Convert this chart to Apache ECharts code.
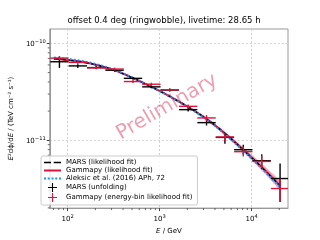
<!DOCTYPE html>
<html><head><meta charset="utf-8">
<script src="https://cdn.jsdelivr.net/npm/echarts@6/dist/echarts.min.js"></script>
<style>html,body{margin:0;padding:0;background:#fff}#c{width:320px;height:240px}</style>
</head><body><div id="c"></div><script>
// ---- data ----
const binCenter = [81.3, 128.8, 204.2, 323.6, 512.9, 812.8, 1288, 2042, 3236, 5129, 8128, 12882, 20417];
const binLow    = [64.6, 102.3, 162.2, 257.0, 407.4, 645.7, 1023, 1622, 2570, 4074, 6457, 10233, 16218];
const binHigh   = [102.3, 162.2, 257.0, 407.4, 645.7, 1023, 1622, 2570, 4074, 6457, 10233, 16218, 25704];

const marsFlux     = [6.47e-11, 5.86e-11, 5.63e-11, 5.29e-11, 4.36e-11, 3.56e-11, 3.30e-11, 2.07e-11, 1.52e-11, 1.07e-11, 7.98e-12, 6.14e-12, 4.02e-12];
const marsFluxLow  = [5.59e-11, 5.56e-11, 5.43e-11, 5.10e-11, 4.21e-11, 3.44e-11, 3.18e-11, 1.98e-11, 1.42e-11, 9.18e-12, 7.10e-12, 5.05e-12, 2.30e-12];
const marsFluxHigh = [7.32e-11, 6.11e-11, 5.83e-11, 5.48e-11, 4.51e-11, 3.69e-11, 3.42e-11, 2.17e-11, 1.63e-11, 1.19e-11, 8.96e-12, 7.15e-12, 5.76e-12];

const gpFlux     = [7.06e-11, 6.37e-11, 5.59e-11, 5.44e-11, 4.04e-11, 3.79e-11, 3.31e-11, 2.24e-11, 1.70e-11, 1.08e-11, 7.62e-12, 6.04e-12, 3.17e-12];
const gpFluxLow  = [6.73e-11, 6.15e-11, 5.40e-11, 5.25e-11, 3.90e-11, 3.66e-11, 3.19e-11, 2.13e-11, 1.58e-11, 9.85e-12, 6.78e-12, 5.13e-12, 2.33e-12];
const gpFluxHigh = [7.40e-11, 6.60e-11, 5.79e-11, 5.63e-11, 4.18e-11, 3.93e-11, 3.43e-11, 2.34e-11, 1.82e-11, 1.18e-11, 8.56e-12, 6.94e-12, 4.00e-12];

const curveEnergy = [70.8, 89.1, 112.2, 141.3, 177.8, 223.9, 281.8, 354.8, 446.7, 562.3, 707.9, 891.3, 1122, 1413, 1778, 2239, 2818, 3548, 4467, 5623, 7079, 8913, 11220, 14125, 17783, 20417];
const gammapyFit     = [6.97e-11, 6.84e-11, 6.68e-11, 6.47e-11, 6.21e-11, 5.89e-11, 5.52e-11, 5.11e-11, 4.66e-11, 4.22e-11, 3.80e-11, 3.41e-11, 3.05e-11, 2.70e-11, 2.39e-11, 2.09e-11, 1.82e-11, 1.56e-11, 1.31e-11, 1.09e-11, 8.99e-12, 7.36e-12, 6.00e-12, 4.85e-12, 3.89e-12, 3.39e-12];
const gammapyFitLow  = [6.78e-11, 6.68e-11, 6.56e-11, 6.37e-11, 6.12e-11, 5.82e-11, 5.46e-11, 5.06e-11, 4.62e-11, 4.18e-11, 3.77e-11, 3.38e-11, 3.02e-11, 2.66e-11, 2.35e-11, 2.05e-11, 1.77e-11, 1.51e-11, 1.26e-11, 1.04e-11, 8.53e-12, 6.92e-12, 5.57e-12, 4.44e-12, 3.51e-12, 3.02e-12];
const gammapyFitHigh = [7.16e-11, 7.00e-11, 6.80e-11, 6.58e-11, 6.30e-11, 5.96e-11, 5.58e-11, 5.16e-11, 4.70e-11, 4.26e-11, 3.84e-11, 3.44e-11, 3.09e-11, 2.74e-11, 2.43e-11, 2.13e-11, 1.87e-11, 1.61e-11, 1.36e-11, 1.14e-11, 9.48e-12, 7.83e-12, 6.46e-12, 5.29e-12, 4.31e-12, 3.80e-12];
const marsFit    = [6.95e-11, 6.82e-11, 6.66e-11, 6.46e-11, 6.20e-11, 5.88e-11, 5.52e-11, 5.11e-11, 4.66e-11, 4.22e-11, 3.80e-11, 3.41e-11, 3.05e-11, 2.70e-11, 2.39e-11, 2.09e-11, 1.82e-11, 1.56e-11, 1.31e-11, 1.09e-11, 8.97e-12, 7.33e-12, 5.97e-12, 4.82e-12, 3.86e-12, 3.36e-12];
const aleksicFit = [7.16e-11, 7.01e-11, 6.83e-11, 6.60e-11, 6.32e-11, 5.98e-11, 5.59e-11, 5.16e-11, 4.69e-11, 4.24e-11, 3.81e-11, 3.41e-11, 3.04e-11, 2.69e-11, 2.37e-11, 2.07e-11, 1.80e-11, 1.54e-11, 1.29e-11, 1.07e-11, 8.78e-12, 7.17e-12, 5.83e-12, 4.70e-12, 3.76e-12, 3.28e-12];

const xMajorTicks = [100, 1000, 10000];
const yMajorTicks = [1e-11, 1e-10];
const xMinorTicks = [70, 80, 90, 200, 300, 400, 500, 600, 700, 800, 900, 2000, 3000, 4000, 5000, 6000, 7000, 8000, 9000, 20000];
const yMinorTicks = [2e-12, 3e-12, 4e-12, 5e-12, 6e-12, 7e-12, 8e-12, 9e-12, 2e-11, 3e-11, 4e-11, 5e-11, 6e-11, 7e-11, 8e-11, 9e-11];

const titleText = 'offset 0.4 deg (ringwobble), livetime: 28.65 h';
const names = ['MARS (likelihood fit)', 'Gammapy (likelihood fit)', 'Aleksic et al. (2016) APh, 72', 'MARS (unfolding)', 'Gammapy (energy-bin likelihood fit)'];

// ---- chart ----
const FONT = 'DejaVu Sans';
const RED = '#dc143c', BLUE = '#1e90ff';
function fmtPow(v) {
  const l = Math.log10(v), e = Math.round(l);
  if (Math.abs(l - e) > 1e-6) return '';
  return '{b|10}{s|' + String(e).replace('-', '\u2212') + '}';
}
const powRich = {
  b: {fontSize: 7, fontFamily: FONT, color: '#000', lineHeight: 9, verticalAlign: 'bottom'},
  s: {fontSize: 5.2, fontFamily: FONT, color: '#000', lineHeight: 9, verticalAlign: 'top'}
};
const zip = (...a) => a[0].map((_, i) => a.map(x => x[i]));

function errRender(color) {
  return function (params, api) {
    const cs = params.coordSys;
    const clampX = x => Math.max(cs.x, Math.min(cs.x + cs.width, x));
    const e = api.value(0), f = api.value(1);
    const pL = api.coord([api.value(2), f]), pR = api.coord([api.value(3), f]);
    const pT = api.coord([e, api.value(5)]), pB = api.coord([e, api.value(4)]);
    return {type: 'group', children: [
      {type: 'line', shape: {x1: clampX(pL[0]), y1: pL[1], x2: clampX(pR[0]), y2: pR[1]}, style: {stroke: color, lineWidth: 1.4}},
      {type: 'line', shape: {x1: pT[0], y1: pT[1], x2: pB[0], y2: pB[1]}, style: {stroke: color, lineWidth: 1.4}}
    ]};
  };
}
const plusIcon = 'path://M0,7L16,7L16,9L0,9Z M7,0L9,0L9,16L7,16Z';
const solidIcon = 'path://M0,0L17,0L17,2L0,2Z';
const dashIcon = 'path://M0,0L7,0L7,1.5L0,1.5Z M9.7,0L17,0L17,1.5L9.7,1.5Z';
const dotIcon = 'path://M0,0L2,0L2,2L0,2Z M3.75,0L5.75,0L5.75,2L3.75,2Z M7.5,0L9.5,0L9.5,2L7.5,2Z M11.25,0L13.25,0L13.25,2L11.25,2Z M15,0L17,0L17,2L15,2Z';

const chart = echarts.init(document.getElementById('c'), null, {renderer: 'canvas'});
chart.setOption({
  animation: false,
  textStyle: {fontFamily: FONT},
  grid: {left: 40, right: 32, top: 29, bottom: 28, show: true, borderColor: '#999', borderWidth: 1, backgroundColor: '#fff'},
  graphic: [
    {type: 'text', x: 164, y: 21, z: 10, style: {text: titleText, fontSize: 8.5, fontFamily: FONT, fill: '#000', align: 'center', verticalAlign: 'middle', textAlign: 'center', textVerticalAlign: 'middle'}},
    {type: 'text', x: 167, y: 107, rotation: Math.PI / 6, z: 10, silent: true,
     style: {text: 'Preliminary', fontSize: 20, fontFamily: FONT, fill: 'rgba(220,20,60,0.42)', align: 'center', verticalAlign: 'middle', textAlign: 'center', textVerticalAlign: 'middle'}}
  ],
  legend: {
    orient: 'vertical', left: 41, top: 156, padding: [3, 5, 3, 3], itemGap: 1, itemWidth: 17, itemHeight: 9,
    backgroundColor: 'rgba(255,255,255,0.85)', borderColor: '#ccc', borderWidth: 1, borderRadius: 2,
    textStyle: {fontSize: 7, fontFamily: FONT, color: '#000'},
    data: [
      {name: names[0], icon: dashIcon}, {name: names[1], icon: solidIcon}, {name: names[2], icon: dotIcon},
      {name: names[3], icon: plusIcon}, {name: names[4], icon: plusIcon}
    ]
  },
  xAxis: {
    type: 'log', logBase: 10, min: 63.8, max: 24900,
    name: '{i|E} / GeV', nameLocation: 'middle', nameGap: 15,
    nameTextStyle: {fontSize: 7, fontFamily: FONT, color: '#000', rich: {i: {fontStyle: 'italic', fontSize: 7, fontFamily: FONT}}},
    axisLine: {show: true, lineStyle: {color: '#999', width: 1}},
    axisTick: {show: true, inside: false, length: 3, lineStyle: {color: '#444'}, customValues: xMajorTicks},
    axisLabel: {customValues: xMajorTicks, formatter: fmtPow, rich: powRich, fontSize: 7, margin: 6, color: '#000', fontFamily: FONT},
    splitLine: {show: true, lineStyle: {color: '#d0d0d0', type: [2, 2], width: 1}},
    minorTick: {show: false}
  },
  yAxis: {
    type: 'log', logBase: 10, min: 1.99e-12, max: 1.41e-10,
    name: '{i|E}²dϕ/d{i|E} / (TeV cm⁻² s⁻¹)', nameLocation: 'middle', nameGap: 27, nameRotate: 90,
    nameTextStyle: {fontSize: 7, fontFamily: FONT, color: '#000', rich: {i: {fontStyle: 'italic', fontSize: 7, fontFamily: FONT}}},
    axisLine: {show: true, lineStyle: {color: '#999', width: 1}},
    axisTick: {show: true, inside: false, length: 3, lineStyle: {color: '#444'}, customValues: yMajorTicks},
    axisLabel: {customValues: yMajorTicks, formatter: fmtPow, rich: powRich, fontSize: 7, margin: 4, color: '#000', fontFamily: FONT},
    splitLine: {show: true, lineStyle: {color: '#d0d0d0', type: [2, 2], width: 1}},
    minorTick: {show: false}
  },
  series: [
    {
      type: 'custom', name: 'band', silent: true, z: 1,
      data: zip(curveEnergy, gammapyFitLow, gammapyFitHigh),
      encode: {x: 0, y: 1},
      renderItem: function (params, api) {
        if (params.dataIndex !== 0) return null;
        const n = curveEnergy.length, up = [], lo = [];
        for (let i = 0; i < n; i++) {
          up.push(api.coord([api.value(0, i), api.value(2, i)]));
          lo.unshift(api.coord([api.value(0, i), api.value(1, i)]));
        }
        return {type: 'polygon', shape: {points: up.concat(lo)}, style: {fill: 'rgba(220,20,60,0.38)', stroke: null}};
      }
    },
    {type: 'line', name: names[1], data: zip(curveEnergy, gammapyFit), symbol: 'none', silent: true, z: 2,
     lineStyle: {color: RED, width: 2}, itemStyle: {color: RED}},
    {type: 'line', name: names[0], data: zip(curveEnergy, marsFit), symbol: 'none', silent: true, z: 2,
     lineStyle: {color: '#000', width: 1.4, type: [5, 2.5]}, itemStyle: {color: '#000'}},
    {type: 'line', name: names[2], data: zip(curveEnergy, aleksicFit), symbol: 'none', silent: true, z: 2,
     lineStyle: {color: BLUE, width: 2, type: [2, 2]}, itemStyle: {color: BLUE}},
    {type: 'custom', name: names[3], z: 3, silent: true, itemStyle: {color: '#000'},
     data: zip(binCenter, marsFlux, binLow, binHigh, marsFluxLow, marsFluxHigh), encode: {x: 0, y: 1},
     renderItem: errRender('#000')},
    {type: 'custom', name: names[4], z: 3, silent: true, itemStyle: {color: RED},
     data: zip(binCenter, gpFlux, binLow, binHigh, gpFluxLow, gpFluxHigh), encode: {x: 0, y: 1},
     renderItem: errRender(RED)},
    {type: 'custom', name: 'xminor', silent: true, z: 3,
     data: xMinorTicks.map(v => [v]), encode: {x: 0},
     renderItem: function (params, api) {
       const cs = params.coordSys;
       const x = api.coord([api.value(0), 1e-11])[0];
       const yb = cs.y + cs.height;
       return {type: 'line', shape: {x1: x, y1: yb, x2: x, y2: yb + 2}, style: {stroke: '#444', lineWidth: 0.8}};
     }},
    {type: 'custom', name: 'yminor', silent: true, z: 3,
     data: yMinorTicks.map(v => [1000, v]), encode: {x: 0, y: 1},
     renderItem: function (params, api) {
       const cs = params.coordSys;
       const y = api.coord([1000, api.value(1)])[1];
       return {type: 'line', shape: {x1: cs.x - 2, y1: y, x2: cs.x, y2: y}, style: {stroke: '#444', lineWidth: 0.8}};
     }}
  ]
});
</script></body></html>
